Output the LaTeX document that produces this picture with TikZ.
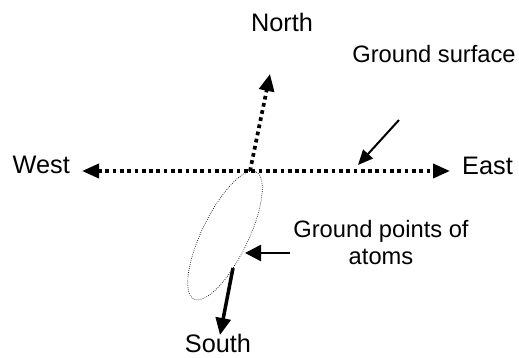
\documentclass[tikz,border=0pt]{standalone}
\usepackage{fontspec}
\setmainfont{Liberation Sans}
\usetikzlibrary{arrows.meta}
\tikzset{
  dotline/.style={line width=3.7pt,dash pattern=on 3.7pt off 3.6pt},
  bighead/.style={-{Triangle[length=17pt,width=15pt]}},
  label/.style={inner sep=0pt,font=\fontsize{23.7}{27}\selectfont},
  compass/.style={label,font=\fontsize{25.3}{29}\selectfont}
}
\begin{document}
\begin{tikzpicture}[x=1pt,y=1pt]
\useasboundingbox (0,0) rectangle (519,358);
\coordinate (o) at (250,187);
\coordinate (wtip) at (82,187);
\coordinate (etip) at (450,187);
\coordinate (ntip) at (270,284);
\coordinate (c) at (225,122.5);
\coordinate (sfoot) at (233,90);
\coordinate (stip) at (220,23);
\coordinate (pfoot) at (290,105);
\coordinate (ptip) at (245,105);
\coordinate (gfoot) at (399,238);
\coordinate (gtip) at (358,193);
% compass lines
\draw[dotline,{Triangle[length=17pt,width=14pt]}-{Triangle[length=17pt,width=14pt]}] (wtip) -- (etip);
\draw[dotline,bighead] (o) -- (ntip);
\draw[line width=3.5pt,bighead] (sfoot) -- (stip);
% atoms
\draw[line width=0.7pt,dash pattern=on 0.7pt off 1.4pt,rotate around={64:(c)}] (c) ellipse [x radius=70.7,y radius=23.1];
\draw[line width=2.6pt,-{Triangle[length=16pt,width=16pt]}] (pfoot) -- (ptip);
\draw[line width=2pt,-{Triangle[length=15pt,width=13pt]}] (gfoot) -- (gtip);
\node[compass,anchor=base east] (west) at (70,184) {West};
\node[compass,anchor=base west] (east) at (462,183) {East};
\node[compass,anchor=base] (north) at (282,326) {North};
\node[compass,anchor=base] (south) at (218,5) {South};
\node[label,anchor=base] (surf) at (434,295) {Ground surface};
\node[label,align=center,anchor=base] (pts) at (381,93) {Ground points of\\atoms};
\end{tikzpicture}
\end{document}
